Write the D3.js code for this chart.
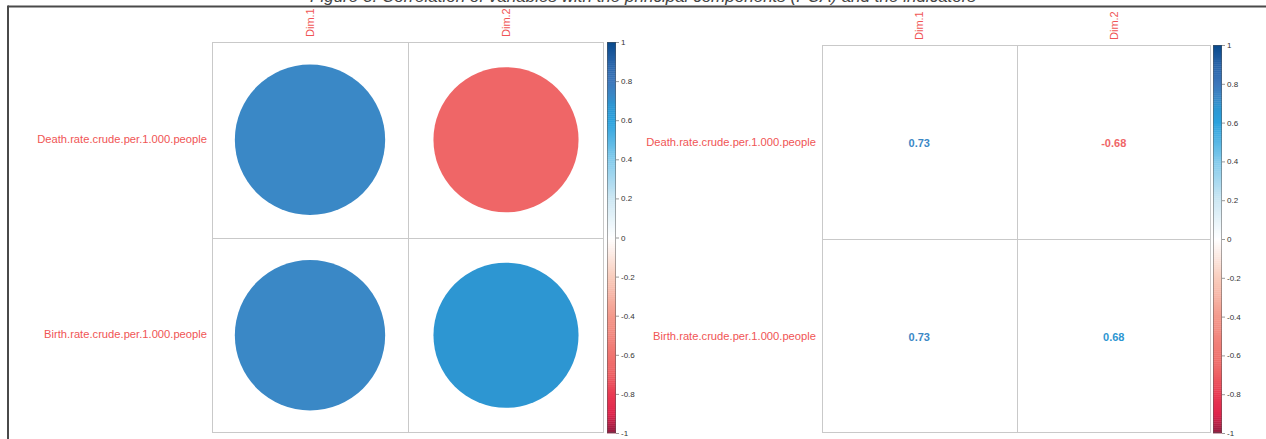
<!DOCTYPE html>
<html>
<head>
<meta charset="utf-8">
<script src="https://cdn.jsdelivr.net/npm/d3@7"></script>
<style>
  html, body { margin: 0; padding: 0; background: #fff; }
  svg { display: block; font-family: "Liberation Sans", Arial, sans-serif; }
</style>
</head>
<body>
<svg id="chart" width="1266" height="439"></svg>
<script>
// ---- data ----
const rowLabels = ["Death.rate.crude.per.1.000.people", "Birth.rate.crude.per.1.000.people"];
const colLabels = ["Dim.1", "Dim.2"];
const deathValues = [0.73, -0.68];
const birthValues = [0.73, 0.68];
const tickValues = [1, 0.8, 0.6, 0.4, 0.2, 0, -0.2, -0.4, -0.6, -0.8, -1];
const tickLabels = ["1", "0.8", "0.6", "0.4", "0.2", "0", "-0.2", "-0.4", "-0.6", "-0.8", "-1"];
const titleText = "Figure 3: Correlation of variables with the principal components (PCA) and the indicators";

// colour ramp
const colorDomain = [-1, -0.9, -0.8, -0.68, -0.6, -0.4, -0.2, 0, 0.2, 0.4, 0.6, 0.68, 0.73, 0.8, 0.9, 1];
const colorRange = ["#8f1a3e", "#e0264d", "#e93a52", "#ef6667", "#f07470", "#f49a8c", "#f9cdbd", "#ffffff",
                    "#cde7f3", "#84cbec", "#2ba2de", "#2d96d2", "#3a88c6", "#3d77bb", "#2763a8", "#0a4a8c"];

const matrix = [deathValues, birthValues];
const cells = [];
matrix.forEach((row, i) => row.forEach((v, j) => cells.push({ row: rowLabels[i], col: colLabels[j], value: v })));

const color = d3.scaleLinear().domain(colorDomain).range(colorRange).interpolate(d3.interpolateRgb).clamp(true);

const svg = d3.select("#chart");

// frame + caption (cut off by the top of the picture, as in the reference)
svg.append("text")
  .attr("x", 310).attr("y", 2)
  .attr("font-size", 16).attr("font-style", "italic").attr("fill", "#444")
  .attr("textLength", 666).attr("lengthAdjust", "spacingAndGlyphs")
  .text(titleText);
svg.append("line").attr("x1", 8).attr("x2", 1266).attr("y1", 6.5).attr("y2", 6.5).attr("stroke", "#4a4a4a").attr("stroke-width", 2);
svg.append("line").attr("x1", 8).attr("x2", 8).attr("y1", 5.5).attr("y2", 439).attr("stroke", "#4a4a4a").attr("stroke-width", 2);

const panels = [
  { x0: 212, x1: 604, y0: 42, y1: 433, mode: "circle", labelGap: 5, barX: 607, colLabelGap: 5, rowDy: -1 },
  { x0: 822, x1: 1211, y0: 45, y1: 433, mode: "number", labelGap: 6, barX: 1213, colLabelGap: 5, rowDy: 0 }
];

panels.forEach(p => {
  const g = svg.append("g");
  const x = d3.scaleBand().domain(colLabels).range([p.x0, p.x1]);
  const y = d3.scaleBand().domain(rowLabels).range([p.y0, p.y1]);
  const maxR = 0.9 * Math.min(x.bandwidth(), y.bandwidth()) / 2;

  // marks
  if (p.mode === "circle") {
    g.selectAll("circle.cell").data(cells).join("circle")
      .attr("class", "cell")
      .attr("cx", d => x(d.col) + x.bandwidth() / 2)
      .attr("cy", d => y(d.row) + y.bandwidth() / 2)
      .attr("r", d => maxR * Math.sqrt(Math.abs(d.value)))
      .attr("fill", d => color(d.value));
  } else {
    g.selectAll("text.cell").data(cells).join("text")
      .attr("class", "cell")
      .attr("x", d => x(d.col) + x.bandwidth() / 2)
      .attr("y", d => y(d.row) + y.bandwidth() / 2 + 1)
      .attr("text-anchor", "middle").attr("dominant-baseline", "central")
      .attr("font-size", 11).attr("font-weight", "bold")
      .attr("fill", d => color(d.value))
      .text(d => d3.format(".2f")(d.value).replace("\u2212", "-"));
  }

  // grid
  const grid = g.append("g").attr("stroke", "#c9c9c9").attr("stroke-width", 1).attr("fill", "none");
  colLabels.forEach((c, j) => {
    if (j > 0) grid.append("line").attr("x1", Math.round(x(c)) + 0.5).attr("x2", Math.round(x(c)) + 0.5).attr("y1", p.y0).attr("y2", p.y1);
  });
  rowLabels.forEach((r, i) => {
    if (i > 0) grid.append("line").attr("y1", Math.round(y(r)) + 0.5).attr("y2", Math.round(y(r)) + 0.5).attr("x1", p.x0).attr("x2", p.x1);
  });
  grid.append("rect").attr("x", p.x0 + 0.5).attr("y", p.y0 + 0.5).attr("width", p.x1 - p.x0 - 1).attr("height", p.y1 - p.y0 - 1);

  // row labels
  g.selectAll("text.rowlab").data(rowLabels).join("text")
    .attr("class", "rowlab")
    .attr("x", p.x0 - p.labelGap)
    .attr("y", d => y(d) + y.bandwidth() / 2 + p.rowDy)
    .attr("text-anchor", "end").attr("dominant-baseline", "central")
    .attr("font-size", 11.2).attr("fill", "#f05555")
    .text(d => d);

  // column labels (rotated)
  g.selectAll("text.collab").data(colLabels).join("text")
    .attr("class", "collab")
    .attr("transform", d => `translate(${x(d) + x.bandwidth() / 2},${p.y0 - p.colLabelGap}) rotate(-90)`)
    .attr("text-anchor", "start").attr("dominant-baseline", "central")
    .attr("font-size", 11).attr("fill", "#f05555")
    .text(d => d);

  // colour bar
  const barW = 9;
  const yBar = d3.scaleLinear().domain([-1, 1]).range([p.y1, p.y0]);
  const steps = d3.range(200).map(k => -1 + (k + 0.5) * 0.01);
  g.append("g").selectAll("rect").data(steps).join("rect")
    .attr("x", p.barX).attr("width", barW)
    .attr("y", d => yBar(d + 0.005))
    .attr("height", d => yBar(d - 0.005) - yBar(d + 0.005) + 0.4)
    .attr("fill", d => color(d));
  g.append("rect").attr("x", p.barX + 0.5).attr("y", p.y0 + 0.5).attr("width", barW - 1).attr("height", p.y1 - p.y0 - 1)
    .attr("fill", "none").attr("stroke", "#555").attr("stroke-width", 0.5);

  const axis = d3.axisRight(yBar).tickValues(tickValues).tickSize(3).tickPadding(2)
    .tickFormat((d, i) => tickLabels[i]);
  const ax = g.append("g").attr("transform", `translate(${p.barX + barW},0)`).call(axis);
  ax.select(".domain").remove();
  ax.selectAll("line").attr("stroke", "#555").attr("stroke-width", 0.6);
  ax.selectAll("text").attr("font-size", 8).attr("fill", "#333").attr("font-family", "Liberation Sans, Arial, sans-serif");
});
</script>
</body>
</html>
